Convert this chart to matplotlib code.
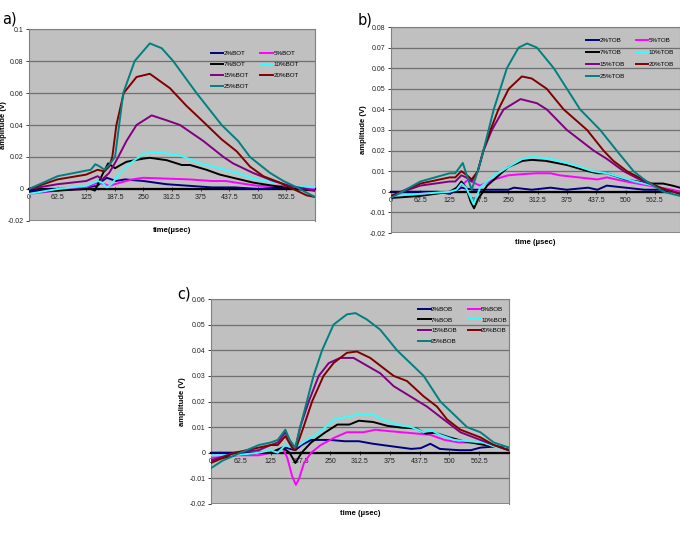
import matplotlib
matplotlib.use("Agg")
import matplotlib.pyplot as plt

plt.rcParams['font.family'] = ['Liberation Sans', 'DejaVu Sans']

# (time usec, amplitude V)
a_2 = [(0, -0.001), (62.5, 0.0), (125, 0.001), (150, 0.002), (160, 0.005), (170, 0.007), (180, 0.006),
       (190, 0.005), (210, 0.006), (250, 0.005), (275, 0.004), (300, 0.003), (350, 0.002), (400, 0.001),
       (450, 0.001), (500, 0.0), (550, 0.001), (600, 0.0), (625, 0.0)]
a_5 = [(0, -0.003), (62.5, -0.001), (125, 0.001), (150, 0.004), (165, 0.003), (175, 0.002), (200, 0.004),
       (225, 0.006), (250, 0.007), (300, 0.0065), (350, 0.006), (400, 0.005), (430, 0.005), (475, 0.003),
       (500, 0.002), (550, 0.002), (600, 0.001), (625, 0.0)]
a_7 = [(0, -0.002), (62.5, -0.001), (125, 0.0), (135, 0.0), (144, -0.001), (152, 0.004), (162, 0.01),
       (173, 0.016), (188, 0.013), (200, 0.015), (213, 0.017), (250, 0.019), (264, 0.0195), (301, 0.018),
       (334, 0.015), (352, 0.015), (388, 0.012), (417, 0.009), (446, 0.007), (490, 0.004), (534, 0.002),
       (578, 0.0), (625, -0.001)]
a_10 = [(0, -0.003), (62.5, 0.0), (125, 0.002), (150, 0.005), (160, 0.004), (170, 0.001), (180, 0.003),
        (199, 0.01), (221, 0.016), (250, 0.022), (279, 0.023), (330, 0.021), (374, 0.016), (417, 0.013),
        (454, 0.01), (497, 0.006), (541, 0.004), (578, 0.002), (625, 0.001)]
a_15 = [(0, 0.0), (62.5, 0.003), (125, 0.005), (150, 0.008), (160, 0.006), (175, 0.01), (187.5, 0.016),
        (195, 0.02), (213, 0.03), (235, 0.04), (268, 0.046), (300, 0.043), (330, 0.04), (381, 0.03),
        (425, 0.02), (446, 0.016), (490, 0.01), (534, 0.005), (570, 0.002), (625, -0.001)]
a_20 = [(0, 0.0), (62.5, 0.006), (125, 0.009), (150, 0.012), (165, 0.011), (175, 0.014), (182, 0.02),
        (191, 0.04), (207, 0.06), (235, 0.07), (264, 0.072), (308, 0.063), (344, 0.052), (381, 0.042),
        (421, 0.031), (454, 0.0235), (483, 0.014), (512, 0.008), (548, 0.004), (570, 0.001),
        (607, -0.004), (625, -0.005)]
a_25 = [(0, 0.0), (62.5, 0.008), (125, 0.0115), (135, 0.012), (145, 0.0155), (155, 0.014), (165, 0.012),
        (175, 0.015), (188, 0.02), (197, 0.04), (206, 0.06), (231, 0.08), (264, 0.091), (290, 0.088),
        (315, 0.08), (366, 0.06), (421, 0.04), (457, 0.03), (483, 0.02), (505, 0.015), (527, 0.01),
        (556, 0.005), (578, 0.002), (625, -0.005)]

b_2 = [(0, 0.0), (62.5, 0.0), (100, 0.0), (125, -0.001), (150, 0.002), (175, 0.001), (200, 0.001),
       (250, 0.001), (262, 0.002), (300, 0.001), (340, 0.002), (375, 0.001), (420, 0.002), (440, 0.001),
       (460, 0.003), (500, 0.002), (540, 0.001), (580, 0.001), (616, 0.0)]
b_5 = [(0, -0.002), (62.5, -0.001), (125, 0.0), (150, 0.003), (165, 0.006), (180, 0.004), (190, 0.003),
       (220, 0.006), (250, 0.008), (275, 0.0085), (310, 0.009), (340, 0.009), (360, 0.008), (400, 0.007),
       (440, 0.006), (460, 0.007), (500, 0.005), (525, 0.004), (550, 0.003), (575, 0.002), (600, 0.001),
       (616, 0.0)]
b_7 = [(0, -0.003), (62.5, -0.002), (125, 0.0), (140, 0.002), (150, 0.005), (160, 0.002), (170, -0.005),
       (177, -0.008), (187, -0.003), (205, 0.003), (230, 0.008), (250, 0.012), (280, 0.015), (300, 0.0155),
       (330, 0.015), (375, 0.013), (420, 0.01), (440, 0.009), (460, 0.009), (500, 0.006), (550, 0.004),
       (580, 0.004), (600, 0.003), (616, 0.002)]
b_10 = [(0, -0.002), (62.5, -0.001), (125, 0.0), (140, 0.001), (150, 0.004), (160, 0.002), (176, -0.006),
        (190, 0.002), (220, 0.008), (250, 0.012), (280, 0.016), (300, 0.017), (340, 0.016), (390, 0.013),
        (430, 0.01), (460, 0.009), (490, 0.007), (520, 0.005), (560, 0.003), (590, 0.001), (616, -0.002)]
b_15 = [(0, -0.002), (62.5, 0.003), (125, 0.005), (137, 0.005), (150, 0.008), (160, 0.007), (172, 0.005),
        (185, 0.01), (197, 0.02), (215, 0.03), (240, 0.04), (276, 0.045), (311, 0.043), (332, 0.04),
        (375, 0.03), (432, 0.02), (460, 0.016), (496, 0.01), (538, 0.005), (574, 0.002), (616, -0.001)]
b_20 = [(0, -0.002), (62.5, 0.004), (125, 0.007), (137, 0.007), (150, 0.01), (162, 0.008), (172, 0.006),
        (185, 0.01), (197, 0.02), (212, 0.03), (229, 0.04), (251, 0.05), (279, 0.056), (300, 0.055),
        (332, 0.05), (368, 0.04), (418, 0.03), (453, 0.02), (474, 0.015), (503, 0.01), (545, 0.005),
        (574, 0.002), (616, -0.001)]
b_25 = [(0, -0.003), (62.5, 0.005), (125, 0.009), (137, 0.009), (153, 0.014), (163, 0.007), (172, 0.001),
        (185, 0.01), (197, 0.02), (219, 0.04), (247, 0.06), (272, 0.07), (290, 0.072), (311, 0.07),
        (347, 0.06), (375, 0.05), (403, 0.04), (446, 0.03), (481, 0.02), (517, 0.01), (545, 0.005),
        (581, 0.0), (616, -0.002)]

c_2 = [(0, 0.0), (50, 0.0), (100, 0.0), (125, 0.0), (156, 0.002), (177, 0.001), (190, 0.003), (210, 0.005),
       (250, 0.005), (280, 0.0045), (310, 0.0045), (340, 0.0035), (380, 0.0025), (420, 0.0015),
       (440, 0.0018), (460, 0.0035), (480, 0.0015), (520, 0.001), (545, 0.001), (565, 0.002),
       (600, 0.0025), (625, 0.001)]
c_5 = [(0, -0.002), (50, -0.001), (100, -0.001), (125, 0.0), (150, 0.002), (160, -0.002), (170, -0.009),
       (178, -0.0125), (185, -0.01), (195, -0.004), (210, 0.0), (230, 0.003), (260, 0.006), (285, 0.008),
       (300, 0.008), (320, 0.008), (345, 0.009), (370, 0.0085), (400, 0.008), (430, 0.0075), (460, 0.007),
       (490, 0.005), (520, 0.004), (550, 0.004), (580, 0.003), (610, 0.002), (625, 0.0015)]
c_7 = [(0, -0.003), (50, -0.001), (100, 0.0), (125, 0.0), (150, 0.002), (165, 0.0), (177, -0.004),
       (190, 0.0), (210, 0.004), (240, 0.008), (265, 0.011), (290, 0.011), (310, 0.0125), (340, 0.012),
       (370, 0.0105), (400, 0.0098), (430, 0.0095), (450, 0.0075), (470, 0.0078), (500, 0.006),
       (530, 0.0045), (560, 0.0035), (590, 0.0025), (625, 0.002)]
c_10 = [(0, -0.001), (50, -0.001), (100, 0.0), (125, 0.001), (140, 0.0), (156, 0.003), (170, 0.002),
        (185, 0.003), (200, 0.005), (220, 0.007), (240, 0.01), (260, 0.013), (285, 0.014), (310, 0.015),
        (340, 0.0148), (360, 0.013), (390, 0.011), (420, 0.01), (446, 0.008), (460, 0.009), (480, 0.007),
        (510, 0.005), (540, 0.0045), (570, 0.004), (600, 0.002), (625, 0.002)]
c_15 = [(0, -0.003), (50, 0.0), (100, 0.001), (125, 0.003), (140, 0.004), (156, 0.008), (170, 0.003),
        (177, 0.002), (187, 0.01), (205, 0.02), (226, 0.03), (247, 0.035), (271, 0.037), (299, 0.037),
        (327, 0.034), (355, 0.031), (383, 0.026), (418, 0.022), (453, 0.018), (488, 0.013), (523, 0.008),
        (565, 0.005), (593, 0.003), (625, 0.001)]
c_20 = [(0, -0.004), (50, 0.0), (75, 0.001), (100, 0.002), (125, 0.003), (140, 0.003), (156, 0.0065),
        (170, 0.002), (177, 0.001), (194, 0.01), (212, 0.02), (236, 0.03), (257, 0.035), (285, 0.039),
        (306, 0.0395), (334, 0.037), (362, 0.033), (383, 0.03), (411, 0.028), (446, 0.022), (474, 0.018),
        (495, 0.013), (523, 0.009), (565, 0.006), (593, 0.003), (625, 0.001)]
c_25 = [(0, -0.006), (25, -0.003), (50, -0.001), (75, 0.001), (100, 0.003), (125, 0.004), (140, 0.005),
        (156, 0.009), (165, 0.005), (177, 0.002), (187, 0.01), (201, 0.02), (215, 0.03), (233, 0.04),
        (257, 0.05), (285, 0.054), (303, 0.0545), (327, 0.052), (355, 0.048), (390, 0.04), (418, 0.035),
        (446, 0.03), (481, 0.02), (537, 0.01), (565, 0.008), (593, 0.004), (625, 0.002)]

pcts = ['2%', '5%', '7%', '10%', '15%', '20%', '25%']
colors = ['#000080', '#ff00ff', '#000000', '#33ffff', '#800080', '#800000', '#008080']
x_ticks = [0, 62.5, 125, 187.5, 250, 312.5, 375, 437.5, 500, 562.5]

W, H = 680, 533
panels = [
    dict(series=[a_2, a_5, a_7, a_10, a_15, a_20, a_25], suffix='BOT', letter='a)', letter_px=(2, 19),
         rect=[29 / W, 1 - 221 / H, 286 / W, 192 / H], ylim=(-0.02, 0.1), step=0.02,
         xmax=625, ylabel='amplitude (v)', xlabel='time(µsec)', leg=(0.62, 0.91), lsp=0.9, ylx=-0.077),
    dict(series=[b_2, b_5, b_7, b_10, b_15, b_20, b_25], suffix='TOB', letter='b)', letter_px=(358, 20),
         rect=[391 / W, 1 - 233 / H, 289 / W, 206 / H], ylim=(-0.02, 0.08), step=0.01,
         xmax=616, ylabel='amplitude (V)', xlabel='time (µsec)', leg=(0.66, 0.97), lsp=1.05, ylx=-0.083),
    dict(series=[c_2, c_5, c_7, c_10, c_15, c_20, c_25], suffix='BOB', letter='c)', letter_px=(177, 294),
         rect=[211 / W, 1 - 504 / H, 298 / W, 205 / H], ylim=(-0.02, 0.06), step=0.01,
         xmax=625, ylabel='amplitude (V)', xlabel='time (µsec)', leg=(0.68, 0.985), lsp=0.85, ylx=-0.084),
]


def fmt(v):
    s = ('%.2f' % v).rstrip('0').rstrip('.')
    return '0' if s in ('-0', '0') else s


fig = plt.figure(figsize=(6.8, 5.33), dpi=100)

for p in panels:
    ax = fig.add_axes(p['rect'])
    ax.set_facecolor('#c0c0c0')
    lo, hi = p['ylim']
    n = int(round((hi - lo) / p['step']))
    yt = [lo + i * p['step'] for i in range(n + 1)]
    ax.set_ylim(lo, hi)
    ax.set_xlim(0, p['xmax'])
    ax.set_yticks(yt)
    ax.set_yticklabels([fmt(v) for v in yt])
    ax.yaxis.grid(True, color='#707070', lw=0.9)
    ax.set_axisbelow(True)

    handles = []
    for pts, pct, col in zip(p['series'], pcts, colors):
        xs = [q[0] for q in pts]
        ys = [q[1] for q in pts]
        h, = ax.plot(xs, ys, color=col, lw=1.4, label=pct + p['suffix'], zorder=3,
                     solid_joinstyle='round')
        handles.append(h)

    # zero line acts as the category axis
    ax.spines['bottom'].set_position(('data', 0))
    ax.spines['bottom'].set_color('black')
    ax.spines['bottom'].set_linewidth(1.6)
    ax.spines['bottom'].set_zorder(2.5)
    for s in ('left', 'top', 'right'):
        ax.spines[s].set_color('#808080')
        ax.spines[s].set_linewidth(0.8)
    ax.axhline(lo, color='#808080', lw=1.2, zorder=1)

    ax.set_xticks(x_ticks)
    ax.set_xticklabels([fmt(v) for v in x_ticks])
    ax.tick_params(axis='both', labelsize=5, length=2, width=0.6, pad=2, colors='#222222')
    ax.tick_params(axis='x', direction='inout', length=3)

    ax.set_ylabel(p['ylabel'], fontsize=5.5, fontweight='bold')
    ax.yaxis.set_label_coords(p['ylx'], 0.5)
    ax.text(0.5, -0.047, p['xlabel'], transform=ax.transAxes, ha='center', va='center',
            fontsize=5.5, fontweight='bold')

    order = [0, 2, 4, 6, 1, 3, 5]
    ax.legend([handles[i] for i in order], [handles[i].get_label() for i in order],
              ncol=2, loc='upper left', bbox_to_anchor=p['leg'], frameon=False,
              fontsize=4.5, handlelength=2.0, handletextpad=0.1, columnspacing=1.8,
              labelspacing=p['lsp'], borderpad=0.2)

    lx, ly = p['letter_px']
    fig.text(lx / W, 1 - ly / H, p['letter'], fontsize=10.5, ha='left', va='center',
             family='DejaVu Sans')

fig.savefig('out.png', dpi=100)
